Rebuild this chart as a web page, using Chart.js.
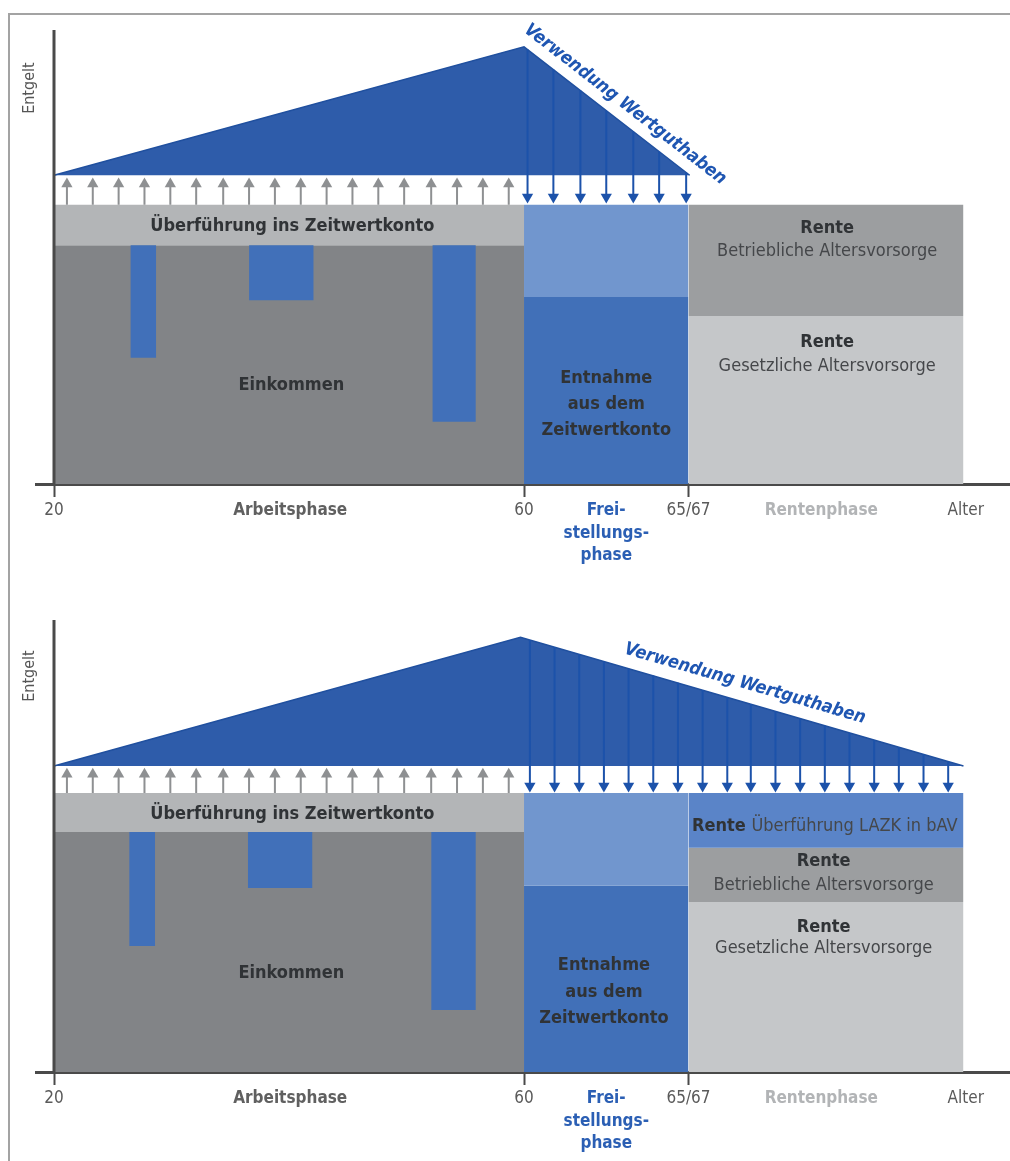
<!DOCTYPE html>
<html><head><meta charset="utf-8">
<script src="https://cdn.jsdelivr.net/npm/chart.js@4"></script>
<style>
html,body{margin:0;padding:0;background:#fff;}
#wrap{position:relative;width:1010px;height:1161px;overflow:hidden;background:#fff;}
#frame{position:absolute;left:8px;top:13px;width:1010px;height:1160px;border-top:2px solid #a3a3a3;border-left:2px solid #a3a3a3;}
.panel{position:absolute;left:0;width:1010px;}
#p1{top:0;height:590px;}
#p2{top:590px;height:571px;}
canvas{display:block;}
</style></head><body>
<div id="wrap"><div id="frame"></div>
<div class="panel" id="p1"><canvas id="c1" width="1010" height="590"></canvas></div>
<div class="panel" id="p2"><canvas id="c2" width="1010" height="571"></canvas></div>
</div>
<script>
// ---------- DATA (schematic units: x = position on age axis, y = Entgelt 0..100) ----------
const xTickValues = [20, 40.1, 60, 67.0, 74, 85.3, 97.6];
const xTickLabels = ['20', 'Arbeitsphase', '60', ['Frei-', 'stellungs-', 'phase'], '65/67', 'Rentenphase', 'Alter'];
const phaseBounds = [20, 60, 74, 97.4];          // work start, release phase start, pension start, end

const upArrowX = [21.1, 23.3, 25.5, 27.7, 29.9, 32.1, 34.4, 36.6, 38.8, 41.0, 43.2, 45.4, 47.6, 49.8, 52.1, 54.3, 56.5, 58.7];

// Panel 1
const p1IncomeTop = 52.6;
const p1TransferTop = 61.5;
const p1GapStart = [26.5, 36.6, 52.2];
const p1GapEnd = [28.7, 42.1, 55.9];
const p1GapBottom = [27.8, 40.5, 13.7];
const p1WithdrawalTop = 41.2;
const p1PensionTops = [37.0, 61.5];               // statutory, company
const p1TriX = [20, 60, 74.1];
const p1TriY = [68.0, 96.3, 68.0];
const p1UpArrow = [61.5, 66.1];                   // shaft base, head
const p1DownX = [60.3, 62.5, 64.8, 67.0, 69.3, 71.5, 73.8];
const p1DownTop = [95.7, 91.3, 86.7, 82.2, 77.6, 73.2, 68.6];
const p1DownHead = 63.2;

// Panel 2
const p2IncomeTop = 53.1;
const p2TransferTop = 61.7;
const p2GapStart = [26.4, 36.5, 52.1];
const p2GapEnd = [28.6, 42.0, 55.9];
const p2GapBottom = [27.9, 40.7, 13.7];
const p2WithdrawalTop = 41.2;
const p2PensionTops = [37.6, 49.6, 61.7];         // statutory, company, LAZK
const p2TriX = [20, 59.7, 97.4];
const p2TriY = [67.7, 96.2, 67.7];
const p2UpArrow = [61.7, 65.9];
const p2DownX = [60.5, 62.6, 64.7, 66.8, 68.9, 71.0, 73.1, 75.2, 77.3, 79.3, 81.4, 83.5, 85.6, 87.7, 89.8, 91.9, 94.0, 96.1];
const p2DownTop = [95.6, 94.0, 92.4, 90.8, 89.2, 87.7, 86.1, 84.5, 82.9, 81.4, 79.8, 78.2, 76.6, 75.0, 73.4, 71.8, 70.3, 68.7];
const p2DownHead = 63.3;

// Texts
const txtTransfer = 'Überführung ins Zeitwertkonto';
const txtIncome = 'Einkommen';
const txtWithdrawal = ['Entnahme', 'aus dem', 'Zeitwertkonto'];
const txtPension = 'Rente';
const txtCompany = 'Betriebliche Altersvorsorge';
const txtStatutory = 'Gesetzliche Altersvorsorge';
const txtLazk = 'Überführung LAZK in bAV';
const txtUsage = 'Verwendung Wertguthaben';
const txtYAxis = 'Entgelt';

// ---------- STYLE ----------
const FONT = '"Liberation Sans Narrow", "DejaVu Sans Condensed", "Arial Narrow", sans-serif';
const C = {
  income: '#828487', band: '#b3b5b7', gap: '#4170b9', freiTop: '#7196ce', freiBottom: '#4170b8',
  company: '#9c9ea0', statutory: '#c5c7c9', lazk: '#5a84c8', tri: '#2e5caa', triEdge: '#20509f',
  down: '#1c52aa', up: '#8e9092', axis: '#4a4a4a', text: '#303336', textSoft: '#45474a', blue: '#1f56b2'
};
const tickColors = ['#5a5a5a', '#606060', '#5a5a5a', '#2b5fb4', '#5a5a5a', '#b2b4b6', '#5a5a5a'];
const tickBold = [false, true, false, true, false, true, false];
const tickMarked = [true, false, true, false, true, false, false];

// ---------- helpers ----------
function rect(x0, x1, y0, y1, color) {
  return { type: 'line', data: [{ x: x0, y: y1 }, { x: x1, y: y1 }], fill: { value: y0 },
    backgroundColor: color, borderColor: 'rgba(0,0,0,0)', borderWidth: 0, pointRadius: 0 };
}
function shafts(xs, base, tops, color, width) {
  const d = [];
  xs.forEach((x, i) => { d.push({ x, y: base }, { x, y: Array.isArray(tops) ? tops[i] : tops }, { x, y: null }); });
  return { type: 'line', data: d, borderColor: color, borderWidth: width, pointRadius: 0, fill: false, spanGaps: false };
}
function heads(xs, y, color, rot, r) {
  return { type: 'line', showLine: false, data: xs.map(x => ({ x, y })), pointStyle: 'triangle', rotation: rot,
    pointRadius: r, pointBackgroundColor: color, pointBorderWidth: 0, backgroundColor: color, borderColor: color };
}

const textLayer = {
  id: 'textLayer',
  afterDatasetsDraw(chart, args, opts) {
    const { ctx } = chart, sx = chart.scales.x, sy = chart.scales.y;
    for (const it of opts.items) {
      const px = sx.getPixelForValue(it.x), py = sy.getPixelForValue(it.y);
      ctx.save();
      ctx.translate(px, py);
      let ang = it.angle || 0;
      if (it.along) {
        const a = it.along;
        ang = Math.atan2(sy.getPixelForValue(a[3]) - sy.getPixelForValue(a[1]), sx.getPixelForValue(a[2]) - sx.getPixelForValue(a[0]));
      }
      if (ang) ctx.rotate(ang);
      ctx.textBaseline = 'middle';
      if (it.parts) {
        let total = 0;
        const ws = it.parts.map(p => { ctx.font = p.font; const w = ctx.measureText(p.text).width; total += w; return w; });
        let cx = -total / 2;
        it.parts.forEach((p, i) => { ctx.font = p.font; ctx.fillStyle = p.color; ctx.textAlign = 'left'; ctx.fillText(p.text, cx, 0); cx += ws[i]; });
      } else {
        ctx.font = it.font; ctx.fillStyle = it.color; ctx.textAlign = it.align || 'center';
        ctx.fillText(it.text, 0, 0);
      }
      ctx.restore();
    }
  }
};

const fB = s => `bold ${s}px ${FONT}`;
const fR = s => `${s}px ${FONT}`;

function makeChart(id, cfg) {
  const ds = [];
  // background blocks
  ds.push(rect(phaseBounds[0], phaseBounds[1], 0, cfg.incomeTop, C.income));
  ds.push(rect(phaseBounds[0], phaseBounds[1], cfg.incomeTop, cfg.transferTop, C.band));
  cfg.gapStart.forEach((g, i) => ds.push(rect(g, cfg.gapEnd[i], cfg.gapBottom[i], cfg.incomeTop, C.gap)));
  ds.push(rect(phaseBounds[1], phaseBounds[2], 0, cfg.withdrawalTop, C.freiBottom));
  ds.push(rect(phaseBounds[1], phaseBounds[2], cfg.withdrawalTop, cfg.transferTop, C.freiTop));
  const pensionColors = [C.statutory, C.company, C.lazk];
  cfg.pensionTops.forEach((t, i) => ds.push(rect(phaseBounds[2], phaseBounds[3], i ? cfg.pensionTops[i - 1] : 0, t, pensionColors[i])));
  // triangle of accumulated credit
  ds.push({ type: 'line', data: cfg.triX.map((x, i) => ({ x, y: cfg.triY[i] })), fill: { value: cfg.triY[0] },
    backgroundColor: C.tri, borderColor: C.triEdge, borderWidth: 1.5, pointRadius: 0 });
  // arrows
  ds.push(shafts(upArrowX, cfg.upArrow[0], cfg.upArrow[1], C.up, 2));
  ds.push(heads(upArrowX, cfg.upArrow[1], C.up, 0, 6.5));
  ds.push(shafts(cfg.downX, cfg.downHead, cfg.downTop, C.down, 2));
  ds.push(heads(cfg.downX, cfg.downHead, C.down, 180, 6.5));
  // y axis line
  ds.push({ type: 'line', data: [{ x: phaseBounds[0], y: 0 }, { x: phaseBounds[0], y: 100 }], borderColor: C.axis, borderWidth: 3, pointRadius: 0, fill: false });
  ds.forEach((d, i) => { d.order = -i; });

  return new Chart(document.getElementById(id), {
    type: 'line',
    data: { datasets: ds },
    plugins: [textLayer],
    options: {
      responsive: false, animation: false, events: [],
      layout: { autoPadding: false, padding: { top: 30, left: 36, right: 0, bottom: 0 } },
      elements: { line: { tension: 0 } },
      plugins: { legend: { display: false }, tooltip: { enabled: false }, textLayer: { items: cfg.texts } },
      scales: {
        x: {
          type: 'linear', min: 18.468, max: 101.36,
          afterBuildTicks: s => { s.ticks = xTickValues.map(v => ({ value: v })); },
          afterFit: s => { s.height = cfg.bottomH; s.paddingLeft = 0; s.paddingRight = 0; },
          ticks: {
            autoSkip: false, maxRotation: 0, minRotation: 0, padding: 3,
            callback: (v, i) => xTickLabels[i],
            color: c => tickColors[c.index],
            font: c => ({ family: FONT, size: 17, weight: tickBold[c.index] ? 'bold' : 'normal', lineHeight: 1.3 })
          },
          grid: { drawOnChartArea: false, drawTicks: true, tickLength: 13, tickWidth: 2,
            tickColor: c => tickMarked[c.index] ? C.axis : 'rgba(0,0,0,0)', color: 'rgba(0,0,0,0)' },
          border: { display: true, color: C.axis, width: 3 }
        },
        y: { type: 'linear', display: false, min: 0, max: 100 }
      }
    }
  });
}

const slope1 = [p1TriX[1], p1TriY[1], p1TriX[2], p1TriY[2]];
const slope2 = [p2TriX[1], p2TriY[1], p2TriX[2], p2TriY[2]];

makeChart('c1', {
  bottomH: 106, incomeTop: p1IncomeTop, transferTop: p1TransferTop,
  gapStart: p1GapStart, gapEnd: p1GapEnd, gapBottom: p1GapBottom,
  withdrawalTop: p1WithdrawalTop, pensionTops: p1PensionTops,
  triX: p1TriX, triY: p1TriY, upArrow: p1UpArrow, downX: p1DownX, downTop: p1DownTop, downHead: p1DownHead,
  texts: [
    { text: txtYAxis, x: 17.96, y: 87.2, angle: -Math.PI / 2, font: fR(16), color: '#555' },
    { text: txtTransfer, x: 28.2, y: 56.8, align: 'left', font: fB(18), color: C.text },
    { text: txtIncome, x: 40.2, y: 21.8, font: fB(18), color: C.text },
    { text: txtWithdrawal[0], x: 67.0, y: 23.3, font: fB(18), color: C.text },
    { text: txtWithdrawal[1], x: 67.0, y: 17.6, font: fB(18), color: C.text },
    { text: txtWithdrawal[2], x: 67.0, y: 11.9, font: fB(18), color: C.text },
    { text: txtPension, x: 85.8, y: 56.4, font: fB(18), color: C.text },
    { text: txtCompany, x: 85.8, y: 51.3, font: fR(18), color: C.textSoft },
    { text: txtPension, x: 85.8, y: 31.1, font: fB(18), color: C.text },
    { text: txtStatutory, x: 85.8, y: 26.0, font: fR(18), color: C.textSoft },
    { text: txtUsage, x: 68.6, y: 83.6, along: slope1, font: `italic bold 18px ${FONT}`, color: C.blue }
  ]
});

makeChart('c2', {
  bottomH: 89, incomeTop: p2IncomeTop, transferTop: p2TransferTop,
  gapStart: p2GapStart, gapEnd: p2GapEnd, gapBottom: p2GapBottom,
  withdrawalTop: p2WithdrawalTop, pensionTops: p2PensionTops,
  triX: p2TriX, triY: p2TriY, upArrow: p2UpArrow, downX: p2DownX, downTop: p2DownTop, downHead: p2DownHead,
  texts: [
    { text: txtYAxis, x: 17.96, y: 87.6, angle: -Math.PI / 2, font: fR(16), color: '#555' },
    { text: txtTransfer, x: 28.2, y: 56.9, align: 'left', font: fB(18), color: C.text },
    { text: txtIncome, x: 40.2, y: 21.9, font: fB(18), color: C.text },
    { text: txtWithdrawal[0], x: 66.8, y: 23.5, font: fB(18), color: C.text },
    { text: txtWithdrawal[1], x: 66.8, y: 17.7, font: fB(18), color: C.text },
    { text: txtWithdrawal[2], x: 66.8, y: 11.9, font: fB(18), color: C.text },
    { x: 85.6, y: 54.4, parts: [ { text: txtPension + ' ', font: fB(18), color: C.text }, { text: txtLazk, font: fR(18), color: C.textSoft } ] },
    { text: txtPension, x: 85.5, y: 46.5, font: fB(18), color: C.text },
    { text: txtCompany, x: 85.5, y: 41.4, font: fR(18), color: C.textSoft },
    { text: txtPension, x: 85.5, y: 32.1, font: fB(18), color: C.text },
    { text: txtStatutory, x: 85.5, y: 27.4, font: fR(18), color: C.textSoft },
    { text: txtUsage, x: 78.8, y: 85.9, along: slope2, font: `italic bold 18px ${FONT}`, color: C.blue }
  ]
});
</script>
</body></html>
